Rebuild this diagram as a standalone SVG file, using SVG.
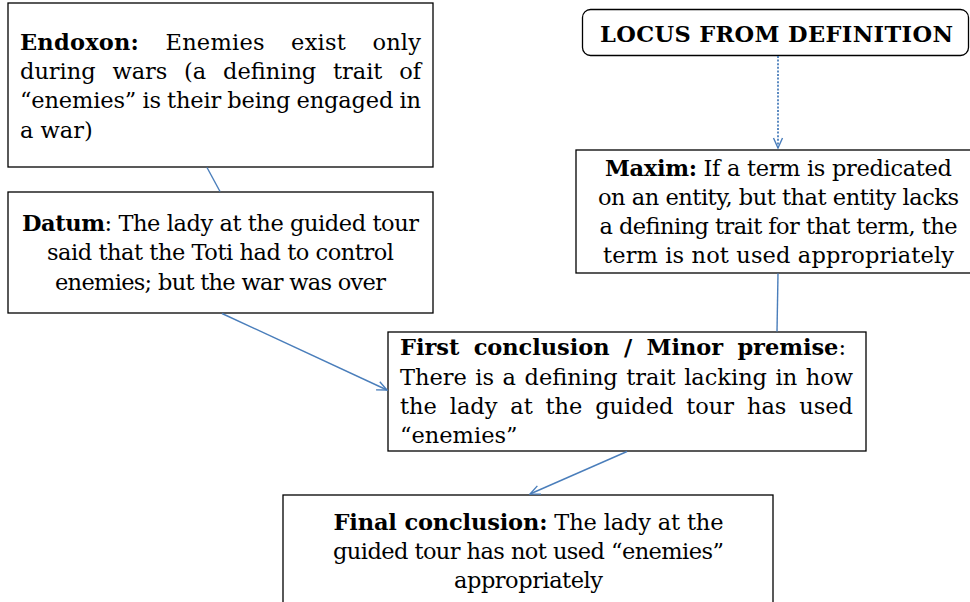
<svg xmlns="http://www.w3.org/2000/svg" width="970" height="602" viewBox="0 0 970 602">
<defs>
<style>
.box{fill:#fff;stroke:#000;stroke-width:1.3}
.t{font-family:"DejaVu Serif","Liberation Serif",serif;font-size:22.5px;fill:#000}
.b{font-weight:bold}
.c{text-anchor:middle}
.ln{stroke:#4A7EBB;stroke-width:1.4;fill:none}
.dot{stroke-width:1.8;stroke-dasharray:2 1.6}
</style>
<marker id="arr" markerWidth="12" markerHeight="12" viewBox="0 0 12 12" refX="11" refY="6" orient="auto" markerUnits="userSpaceOnUse">
<path d="M1,1.5 L11,6 L1,10.5" fill="none" stroke="#4A7EBB" stroke-width="1.4"/>
</marker>
</defs>
<rect width="970" height="602" fill="#fff"/>

<g id="endoxon">
<rect class="box" x="8" y="3" width="425" height="164"/>
<text class="t" x="20" y="50" textLength="401" lengthAdjust="spacing" word-spacing="19"><tspan class="b">Endoxon:</tspan> Enemies exist only</text>
<text class="t" x="20" y="79" textLength="401" lengthAdjust="spacing" word-spacing="9.6">during wars (a defining trait of</text>
<text class="t" x="20" y="108" textLength="401" lengthAdjust="spacing" word-spacing="-0.8">“enemies” is their being engaged in</text>
<text class="t" x="20" y="138">a war)</text>
</g>

<g id="datum">
<rect class="box" x="8" y="192" width="425" height="121"/>
<text class="t c" x="220.5" y="231" textLength="397" lengthAdjust="spacing"><tspan class="b">Datum</tspan>: The lady at the guided tour</text>
<text class="t c" x="220.5" y="260" textLength="347" lengthAdjust="spacing">said that the Toti had to control</text>
<text class="t c" x="220.5" y="290" textLength="331" lengthAdjust="spacing">enemies; but the war was over</text>
</g>

<g id="locus">
<rect class="box" x="582.5" y="9.5" width="386" height="46" rx="8"/>
<text class="t b c" x="776.5" y="42" textLength="353" lengthAdjust="spacing">LOCUS FROM DEFINITION</text>
</g>

<g id="maxim">
<rect class="box" x="576" y="150" width="412" height="123"/>
<text class="t c" x="778.5" y="176" textLength="347" lengthAdjust="spacing"><tspan class="b">Maxim:</tspan> If a term is predicated</text>
<text class="t c" x="778.5" y="205" textLength="361" lengthAdjust="spacing">on an entity, but that entity lacks</text>
<text class="t c" x="778.5" y="234" textLength="358" lengthAdjust="spacing">a defining trait for that term, the</text>
<text class="t c" x="778.5" y="263" textLength="351" lengthAdjust="spacing">term is not used appropriately</text>
</g>

<g id="first">
<rect class="box" x="388" y="332" width="478" height="119"/>
<text class="t" x="400" y="355" textLength="446" lengthAdjust="spacing" word-spacing="6.6"><tspan class="b">First conclusion / Minor premise</tspan>:</text>
<text class="t" x="400" y="385" textLength="453" lengthAdjust="spacing" word-spacing="1.4">There is a defining trait lacking in how</text>
<text class="t" x="400" y="414" textLength="453" lengthAdjust="spacing" word-spacing="5.6">the lady at the guided tour has used</text>
<text class="t" x="400" y="443">“enemies”</text>
</g>

<g id="final">
<rect class="box" x="283" y="495" width="490" height="120"/>
<text class="t c" x="528.5" y="530" textLength="390" lengthAdjust="spacing"><tspan class="b">Final conclusion:</tspan> The lady at the</text>
<text class="t c" x="528.5" y="559" textLength="391" lengthAdjust="spacing">guided tour has not used “enemies”</text>
<text class="t c" x="528.5" y="588" textLength="149" lengthAdjust="spacing">appropriately</text>
</g>

<g id="connectors">
<line class="ln" x1="207" y1="167.5" x2="220" y2="191.5"/>
<line class="ln" x1="222" y1="313.5" x2="387" y2="390" marker-end="url(#arr)"/>
<line class="ln dot" x1="778" y1="56" x2="778" y2="148" marker-end="url(#arr)"/>
<line class="ln" x1="778" y1="273.5" x2="777" y2="331.5"/>
<line class="ln" x1="627" y1="451.5" x2="530" y2="494" marker-end="url(#arr)"/>
</g>
</svg>
